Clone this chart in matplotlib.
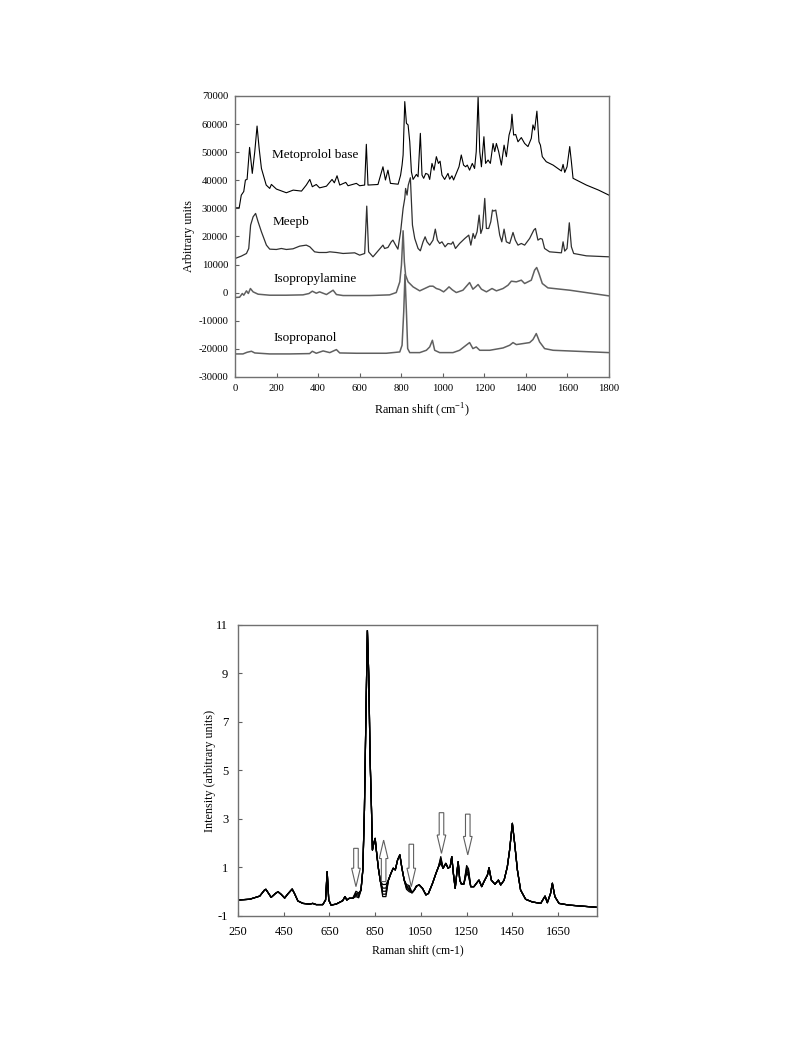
import numpy as np
import matplotlib
matplotlib.use("Agg")
import matplotlib.pyplot as plt
from matplotlib.patches import FancyArrow

plt.rcParams['font.family'] = ['Liberation Serif', 'DejaVu Serif']
plt.rcParams['mathtext.fontset'] = 'custom'
plt.rcParams['mathtext.rm'] = 'Liberation Serif'
plt.rcParams['axes.unicode_minus'] = False

# ---- top panel: reference spectra (x in cm-1, y in arbitrary units) ----
meto_x = [0, 20, 30, 42, 50, 58, 70, 83, 95, 106, 116, 127, 150, 167, 175, 199, 247, 280, 320, 343,
          360, 372, 391, 407, 440, 467, 478, 491, 504, 533, 544, 584, 600, 624, 632, 640, 688, 712,
          724, 736, 748, 785, 797, 804, 809, 817, 825, 833, 841, 849, 857, 873, 881, 892, 900, 908,
          918, 929, 937, 948, 958, 969, 979, 987, 996, 1009, 1025, 1033, 1044, 1052, 1068, 1078,
          1089, 1100, 1110, 1118, 1129, 1142, 1153, 1161, 1170, 1178, 1186, 1198, 1206, 1218, 1229,
          1242, 1250, 1258, 1269, 1282, 1295, 1306, 1319, 1328, 1333, 1341, 1351, 1362, 1378, 1394,
          1410, 1426, 1434, 1442, 1453, 1463, 1470, 1479, 1498, 1531, 1571, 1579, 1587, 1598, 1611,
          1619, 1627, 1691, 1750, 1800]
meto_y = [30200, 30200, 34700, 36000, 40100, 40300, 51700, 42450, 50170, 59300, 51350, 44230, 38300,
          37100, 38530, 36870, 35560, 36500, 36150, 38300, 40300, 37700, 38500, 37300, 37900, 40300,
          39100, 41600, 38300, 39250, 38050, 38900, 38050, 38300, 52800, 38300, 38500, 44800, 40100,
          43600, 38900, 38600, 41850, 45400, 49000, 68000, 60260, 59700, 53700, 43000, 40300, 42100,
          41250, 56700, 41850, 40700, 42450, 42100, 40300, 46000, 43600, 48400, 46000, 46800, 41850,
          40300, 42450, 40400, 41600, 40100, 43000, 44800, 49000, 45400, 44800, 45400, 43600, 46000,
          44200, 50200, 69800, 50200, 44800, 55500, 46000, 47200, 46000, 53100, 50200, 53100, 50200,
          45400, 52500, 48400, 56100, 58500, 63500, 56100, 56300, 53700, 55200, 53100, 52000, 54900,
          59700, 57900, 64600, 53700, 52500, 48400, 46600, 45400, 43300, 45650, 42800, 44800, 52000,
          46600, 40700, 38300, 36500, 34700]

meepb_x = [0, 30, 55, 66, 75, 87, 99, 111, 127, 151, 167, 199, 223, 247, 279, 311, 343, 360, 383, 404,
           440, 456, 488, 520, 576, 600, 624, 634, 643, 664, 712, 720, 736, 752, 760, 773, 784, 797,
           809, 817, 821, 828, 834, 844, 854, 865, 881, 892, 905, 915, 924, 937, 953, 964, 974, 985,
           996, 1011, 1025, 1041, 1049, 1061, 1081, 1106, 1125, 1135, 1146, 1154, 1165, 1175, 1183,
           1191, 1202, 1210, 1221, 1231, 1239, 1245, 1255, 1263, 1274, 1284, 1295, 1306, 1322, 1338,
           1349, 1362, 1378, 1394, 1418, 1438, 1446, 1458, 1470, 1479, 1490, 1514, 1571, 1579, 1587,
           1598, 1609, 1619, 1630, 1691, 1800]
meepb_y = [12160, 13000, 13950, 15730, 24040, 27000, 28200, 25230, 21670, 16920, 15490, 15370, 15730,
           15370, 15610, 16560, 16920, 16320, 14540, 14300, 14300, 14540, 14300, 13950, 14180, 13350,
           13950, 30800, 14540, 12760, 16920, 15730, 16090, 18100, 18700, 16920, 15490, 21670, 29980,
           33540, 37100, 34730, 38300, 40900, 24040, 19290, 15730, 14900, 18100, 19880, 18100, 16920,
           18700, 22610, 18700, 17510, 18100, 16320, 17510, 17270, 18100, 15730, 17510, 19290, 20480,
           16920, 21070, 19290, 21670, 27600, 21070, 22850, 33540, 22850, 22850, 25230, 29400, 29030,
           29400, 25820, 20480, 18100, 22610, 18100, 17510, 21430, 18700, 16920, 17510, 16920, 19290,
           22260, 22850, 18700, 19290, 19050, 15730, 14540, 14180, 18100, 14780, 15730, 24870, 16320,
           13950, 13110, 12760]

amine_x = [0, 22, 35, 42, 55, 64, 74, 87, 111, 167, 247, 327, 356, 372, 391, 407, 440, 472, 488, 520,
           648, 744, 776, 793, 801, 809, 815, 821, 833, 857, 889, 913, 937, 953, 969, 985, 1004, 1017,
           1030, 1046, 1065, 1097, 1118, 1129, 1145, 1158, 1170, 1186, 1210, 1237, 1258, 1290, 1314,
           1330, 1354, 1378, 1394, 1426, 1442, 1452, 1463, 1479, 1506, 1611, 1800]
amine_y = [-1730, -1610, -300, -900, 650, -300, 1480, 290, -540, -900, -900, -780, -300, 530, -190, 290,
           -660, 880, -660, -1020, -1020, -780, 50, 3850, 9790, 22020, 10980, 6220, 3850, 2070, 650,
           1480, 2310, 2310, 1480, 1120, 290, 1120, 2070, 1000, 50, 880, 2660, 3610, 1240, 2070, 2900,
           1240, 290, 1480, 650, 1480, 2660, 4090, 3850, 4450, 3260, 4450, 8010, 8960, 6820, 3260,
           1710, 880, -1140]

propanol_x = [0, 38, 58, 79, 95, 167, 263, 359, 372, 391, 424, 456, 488, 504, 584, 728, 793, 804, 812,
              818, 825, 831, 841, 889, 921, 937, 950, 961, 985, 1049, 1081, 1106, 1129, 1145, 1161,
              1178, 1226, 1290, 1322, 1338, 1354, 1386, 1418, 1434, 1450, 1466, 1490, 1531, 1800]
propanol_y = [-21800, -21800, -21210, -20850, -21450, -21800, -21800, -21680, -20850, -21560, -20730,
              -21330, -20260, -21450, -21560, -21560, -21090, -18710, -6830, 6470, -6830, -19900,
              -21330, -21330, -20500, -19310, -16940, -20500, -21330, -21330, -20500, -19070, -17760,
              -19900, -19310, -20500, -20500, -19670, -18710, -17760, -18470, -18120, -17760, -16690,
              -14550, -17520, -19900, -20500, -21330]

top_names = ['Metoprolol base', 'Meepb', 'Isopropylamine', 'Isopropanol']
top_label_x = [178, 180, 183, 183]
top_label_y = [49000, 25000, 5000, -16300]

# ---- bottom panel: overlaid spectra of several samples ----
base_x = [250, 301, 345, 366, 372, 395, 414, 425, 439, 454, 468, 487, 497, 512, 534, 563, 577, 592,
          621, 633, 640, 647, 657, 679, 708, 718, 726, 737, 752, 766, 778, 788, 796, 803, 810, 816,
          822, 828, 834, 838, 844, 850, 855, 864, 873, 883, 897, 908, 919, 929, 938, 948, 958, 967,
          977, 987, 999, 1011, 1021, 1031, 1043, 1057, 1072, 1083, 1101, 1116, 1127, 1137, 1147,
          1159, 1169, 1178, 1185, 1192, 1200, 1207, 1213, 1220, 1227, 1238, 1250, 1258, 1268, 1282,
          1293, 1304, 1316, 1326, 1341, 1348, 1358, 1374, 1389, 1399, 1414, 1428, 1438, 1450, 1460,
          1472, 1486, 1508, 1537, 1574, 1593, 1603, 1617, 1625, 1636, 1654, 1697, 1817]
base_y = [-0.34, -0.31, -0.18, 0.07, 0.10, -0.23, -0.07, 0.0, -0.11, -0.26, -0.09, 0.11, -0.07, -0.38,
          -0.48, -0.51, -0.48, -0.53, -0.53, -0.34, 0.83, -0.34, -0.55, -0.51, -0.37, -0.2, -0.34,
          -0.27, -0.27, -0.13, -0.2, 0.07, 0.9, 3.37, 7.49, 10.77, 8.87, 5.43, 3.37, 1.72, 2.0, 2.2,
          1.72, 0.97, 0.42, 0.07, 0.07, 0.48, 0.76, 0.97, 0.9, 1.31, 1.52, 0.97, 0.48, 0.21, 0.14,
          -0.04, 0.07, 0.24, 0.28, 0.14, -0.13, -0.07, 0.35, 0.76, 1.03, 1.45, 0.97, 1.17, 0.97, 1.03,
          1.45, 0.76, 0.14, 0.76, 1.24, 0.48, 0.32, 0.32, 0.95, 0.8, 0.21, 0.21, 0.35, 0.48, 0.21,
          0.42, 0.69, 0.99, 0.48, 0.31, 0.48, 0.28, 0.48, 1.03, 1.72, 2.82, 2.0, 0.9, 0.07, -0.31,
          -0.42, -0.48, -0.18, -0.45, -0.07, 0.35, -0.2, -0.48, -0.55, -0.64]
# values that differ between the samples (one entry per sample)
changed_x = [766, 778, 883, 897, 987, 999, 1137, 1250, 1258]
changed_y = [(0.02, -0.05, -0.10, -0.15, -0.20),
             (-0.05, -0.10, -0.15, -0.20, -0.25),
             (0.30, 0.15, 0.02, -0.10, -0.20),
             (0.30, 0.15, 0.02, -0.10, -0.20),
             (0.30, 0.25, 0.20, 0.15, 0.10),
             (0.25, 0.18, 0.12, 0.06, 0.00),
             (1.45, 1.38, 1.30, 1.22, 1.15),
             (1.08, 1.00, 0.92, 0.84, 0.76),
             (0.95, 0.88, 0.80, 0.72, 0.65)]
n_samples = 5

arrow_x = [766, 887, 1008, 1140, 1255]
arrow_tail = [1.79, 0.42, 1.96, 3.26, 3.20]
arrow_tip = [0.21, 2.13, 0.21, 1.58, 1.52]

fig = plt.figure(figsize=(7.97, 10.64), dpi=100)

# Top panel
ax1 = fig.add_axes([0.2949, 0.6457, 0.4692, 0.2641])
ax1.plot(meto_x, meto_y, color='black', lw=0.8)
ax1.plot(meepb_x, meepb_y, color='#303030', lw=0.9)
ax1.plot(amine_x, amine_y, color='#606060', lw=1.1)
ax1.plot(propanol_x, propanol_y, color='#606060', lw=1.1)
for name, lx, ly in zip(top_names, top_label_x, top_label_y):
    ax1.text(lx, ly, name, fontsize=9.5, ha='left', va='center')
ax1.set_xlim(0, 1800)
ax1.set_ylim(-30000, 70000)
ax1.set_xticks(np.arange(0, 1801, 200))
ax1.set_yticks(np.arange(-30000, 70001, 10000))
ax1.set_xlabel('Raman shift (cm$^{-1}$)', fontsize=8.7, labelpad=6)
ax1.set_ylabel('Arbitrary units', fontsize=8.7, labelpad=2)
ax1.tick_params(direction='in', length=3, labelsize=7.7, pad=5, color='#606060')

# Bottom panel
ax2 = fig.add_axes([0.2986, 0.1391, 0.4504, 0.2735])
for i in range(n_samples):
    y = list(base_y)
    for cx, cy in zip(changed_x, changed_y):
        y[base_x.index(cx)] = cy[i]
    ax2.plot(base_x, y, color='black', lw=0.9)
for ax_, tail, tip in zip(arrow_x, arrow_tail, arrow_tip):
    ar = FancyArrow(ax_, tail, 0, tip - tail, width=20, head_width=38, head_length=0.76,
                    length_includes_head=True, facecolor='white', edgecolor='#606060',
                    lw=0.8, zorder=5)
    ax2.add_patch(ar)
ax2.set_xlim(250, 1820)
ax2.set_ylim(-1, 11)
ax2.set_xticks(np.arange(250, 1651, 200))
ax2.set_yticks(np.arange(-1, 12, 2))
ax2.set_xlabel('Raman shift (cm-1)', fontsize=8.5, labelpad=5)
ax2.set_ylabel('Intensity (arbitrary units)', fontsize=8.7, labelpad=0)
ax2.tick_params(direction='in', length=3, labelsize=9, pad=7, color='#606060')

for ax in (ax1, ax2):
    for sp in ax.spines.values():
        sp.set_color('#707070')
        sp.set_linewidth(1.0)

fig.savefig('out.png', dpi=100)
